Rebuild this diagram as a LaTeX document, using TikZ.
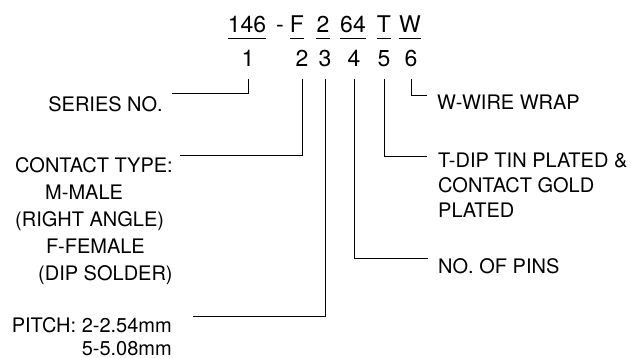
\documentclass[tikz,border=0pt]{standalone}
\usepackage{fontspec}
\setmainfont{TeX Gyre Heros}
\usetikzlibrary{positioning}
\tikzset{codepart/.style={font=\fontsize{23}{27}\selectfont, inner sep=0pt, anchor=base},
  desc/.style={font=\fontsize{20}{25}\selectfont, inner sep=0pt},
  leadline/.style={line width=0.9pt},
  uline/.style={line width=0.9pt}}

\begin{document}
\begin{tikzpicture}[x=1pt,y=-1pt]
  \useasboundingbox (0,0) rectangle (636,358);
  % order code
  \node[codepart] (c1) at (247,33) {146};
  \node[codepart] (dash) at (280,33) {-};
  \node[codepart] (c2) at (297,33) {F};
  \node[codepart] (c3) at (323,33) {2};
  \node[codepart] (c4) at (353,33) {64};
  \node[codepart] (c5) at (384,33) {T};
  \node[codepart] (c6) at (410,33) {W};
  \foreach \n in {c1,c2,c3,c4,c5,c6}
    \draw[uline] ([yshift=-5pt]\n.base west) -- ([yshift=-5pt]\n.base east);
  % position numbers
  \node[codepart] (d1) at (248,67) {1};
  \node[codepart] (d2) at (302,67) {2};
  \node[codepart] (d3) at (325,67) {3};
  \node[codepart] (d4) at (354,67) {4};
  \node[codepart] (d5) at (384,67) {5};
  \node[codepart] (d6) at (411,67) {6};
  % descriptions
  \node[desc, anchor=base east] (series) at (163,112) {SERIES NO.};
  \node[desc, anchor=north east, align=left, font=\fontsize{20}{27}\selectfont] (contact) at (173,157)
    {CONTACT TYPE:\\\hspace*{30pt}M-MALE\\(RIGHT ANGLE)\\\hspace*{31pt}F-FEMALE\\\hspace*{23pt}(DIP SOLDER)};
  \node[desc, anchor=north east, align=right, font=\fontsize{20}{23}\selectfont] (pitch) at (172,317)
    {PITCH: 2-2.54mm\\5-5.08mm};
  \node[desc, anchor=base west] (wire) at (437,110) {W-WIRE WRAP};
  \node[desc, anchor=north west, align=left] (tdip) at (438,153) {T-DIP TIN PLATED \&\\CONTACT GOLD\\PLATED};
  \node[desc, anchor=north west] (pins) at (438,258) {NO. OF PINS};
  % leaders
  \draw[leadline] ([yshift=-12pt]d1.base) |- ([xshift=9pt,yshift=3pt]series.north east);
  \draw[leadline] ([yshift=-12pt]d2.base) |- ([xshift=7pt,yshift=2pt]contact.north east);
  \draw[leadline] ([yshift=-12pt]d3.base) |- ([xshift=21pt,yshift=1pt]pitch.north east);
  \draw[leadline] ([yshift=-12pt]d4.base) |- ([xshift=-10pt]pins.north west);
  \draw[leadline] ([yshift=-12pt]d5.base) |- ([xshift=-11pt,yshift=-3pt]tdip.north west);
  \draw[leadline] ([yshift=-12pt]d6.base) |- ([xshift=-10pt]wire.north west);
\end{tikzpicture}
\end{document}
